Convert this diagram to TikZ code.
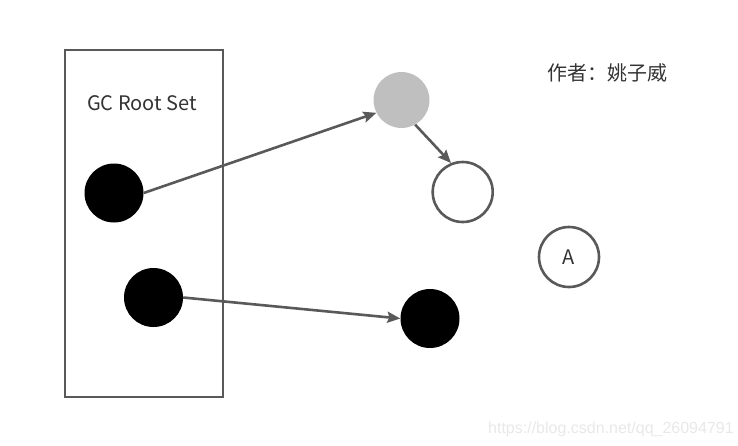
\documentclass[tikz,border=0pt]{standalone}
\usepackage{fontspec}
\newfontfamily\cjk{Noto Sans CJK SC}
\newfontfamily\wmfont{Liberation Sans}
\usepackage{tikz}
\usetikzlibrary{arrows.meta, positioning}
\usepackage{xcolor}
\definecolor{edgegray}{HTML}{595959}
\definecolor{txtgray}{HTML}{333333}
\definecolor{objgray}{HTML}{BFBFBF}
\definecolor{wmgray}{HTML}{E8E8E8}

\begin{document}
\begin{tikzpicture}[
  x=1pt, y=-1pt,
  obj/.style     = {circle, inner sep=0pt, minimum size=#1},
  rootobj/.style = {obj=59pt, fill=black},
  freeobj/.style = {obj=56pt, fill=objgray},
  liveobj/.style = {obj=60pt, draw=edgegray, line width=2.6pt, fill=white},
  lbl/.style     = {font=\cjk\fontsize{20}{24}\selectfont, text=txtgray},
  arr/.style     = {-{Stealth[length=13pt, width=11pt, inset=2pt]},
                    line width=2.6pt, draw=edgegray}
]
\useasboundingbox (0,0) rectangle (738,445);
% root set box
\node[draw=edgegray, line width=2.6pt, minimum width=158pt,
      minimum height=347pt, inner sep=0pt] (rootset) at (144,223.5) {};
\node[lbl] (rootlbl) at (142,103) {GC Root Set};
% objects
\node[rootobj] (r1) at (114,193) {};
\node[rootobj] (r2) at (153.5,297.5) {};
\node[freeobj] (g)  at (401.5,100) {};
\node[liveobj] (w)  at (462.7,192) {};
\node[liveobj, lbl] (a) at (569,257) {A};
\node[rootobj] (b)  at (430,318.5) {};
% author
\node[lbl] (author) at (607.5,73) {作者：姚子威};
% arrows
\draw[arr] (r1.east) -- (g.207);
\draw[arr] (g.299) -- (w.112);
\draw[arr] (r2.east) -- (b.west);
% watermark
\node[anchor=base west, inner sep=0pt, text=wmgray,
      font=\wmfont\fontsize{16}{18}\selectfont] (wm) at (488,433)
  {https://blog.csdn.net/qq\_26094791};
\end{tikzpicture}
\end{document}
